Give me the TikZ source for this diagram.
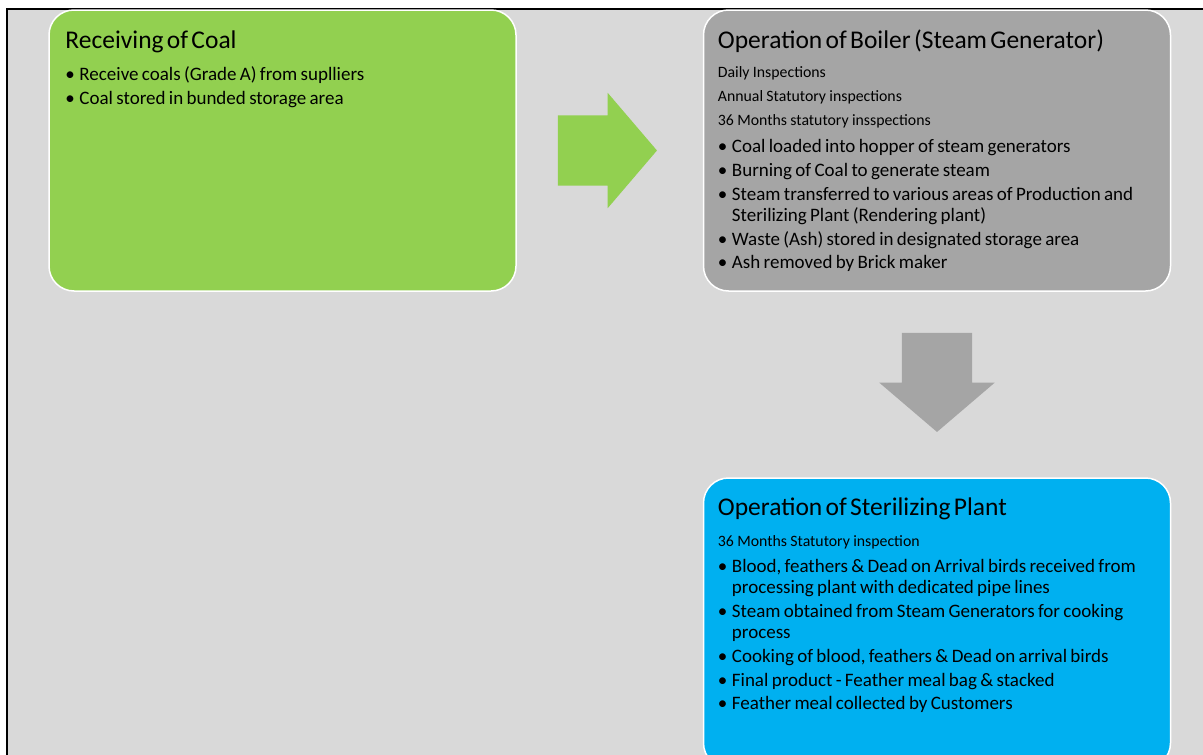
\documentclass[tikz,border=0pt]{standalone}
\usepackage{fontspec}
\setmainfont{Carlito}
\usetikzlibrary{positioning,shapes.arrows,calc}
\definecolor{pagegray}{HTML}{D9D9D9}
\definecolor{coalgreen}{HTML}{92D050}
\definecolor{boilergray}{HTML}{A5A5A5}
\definecolor{plantblue}{HTML}{00B0F0}

\newcommand{\boxtitle}[1]{{\fontsize{25.5}{24}\selectfont\noindent\rule{0pt}{22pt}#1\par}}
\newcommand{\noteline}[1]{{\fontsize{15.8}{21.25}\selectfont\noindent #1\par}}
\newcommand{\bullitem}[1]{{\fontsize{19}{21}\selectfont\hangindent=14pt\hangafter=1\noindent
  \makebox[14pt][l]{\textbullet}#1\par}}
\newcommand{\stagesetup}{\setlength{\parskip}{2.75pt}\setlength{\parindent}{0pt}}

\begin{document}
\begin{tikzpicture}[
  x=1pt, y=-1pt,
  stage/.style={
    shape=rectangle,
    rounded corners=25pt,
    draw=white,
    line width=1.5pt,
    minimum width=467pt,
  },
  stagetext/.style={
    inner sep=0pt,
    text width=440pt,
    align=left,
    execute at begin node=\stagesetup,
  },
  flow/.style={
    single arrow,
    inner xsep=0pt,
    inner ysep=35pt,
    minimum height=99pt,
    single arrow head extend=22.5pt,
    single arrow tip angle=99,
    anchor=tail,
  }]
  \useasboundingbox (0,0) rectangle (1203,755);
  \fill[pagegray] (7,9) rectangle (1203,755);
  \draw[line width=1.5pt] (7,755) -- (7,9) -- (1203,9);

  % the three stages
  \node[stage, fill=coalgreen, minimum height=281pt] (coal) at (282.5,150.5) {};
  \node[stage, fill=boilergray, minimum height=281pt] (boiler) at (937,150.5) {};
  \node[stage, fill=plantblue, minimum height=290pt] (plant) at (937,623) {};

  \node[stagetext, below right=17.5pt and 17pt of coal.north west] (coaltext) {%
    \boxtitle{Receiving of Coal}
    \vspace{8.25pt}
    \bullitem{Receive coals (Grade A) from suplliers}
    \bullitem{Coal stored in bunded storage area}};

  \node[stagetext, below right=17.5pt and 15pt of boiler.north west] (boilertext) {%
    \boxtitle{Operation of Boiler (Steam Generator)}
    \vspace{5pt}
    \noteline{Daily Inspections}
    \noteline{Annual Statutory inspections}
    \noteline{36 Months statutory insspections}
    \vspace{3.25pt}
    \bullitem{Coal loaded into hopper of steam generators}
    \bullitem{Burning of Coal to generate steam}
    \bullitem{Steam transferred to various areas of Production and\newline Sterilizing Plant (Rendering plant)}
    \bullitem{Waste (Ash) stored in designated storage area}
    \bullitem{Ash removed by Brick maker}};

  \node[stagetext, below right=16pt and 15pt of plant.north west] (planttext) {%
    \boxtitle{Operation of Sterilizing Plant}
    \vspace{7pt}
    \noteline{36 Months Statutory inspection}
    \vspace{2.75pt}
    \bullitem{Blood, feathers \& Dead on Arrival birds received from\newline processing plant with dedicated pipe lines}
    \bullitem{Steam obtained from Steam Generators for cooking\newline process}
    \bullitem{Cooking of blood, feathers \& Dead on arrival birds}
    \bullitem{Final product - Feather meal bag \& stacked}
    \bullitem{Feather meal collected by Customers}};

  % block arrows between stages
  \node[flow, fill=coalgreen] (coaltoboiler) at ($(coal.east)+(41,0)$) {};
  \node[flow, fill=boilergray, rotate=-90] (boilertoplant) at ($(boiler.south)+(0,41)$) {};
\end{tikzpicture}
\end{document}
